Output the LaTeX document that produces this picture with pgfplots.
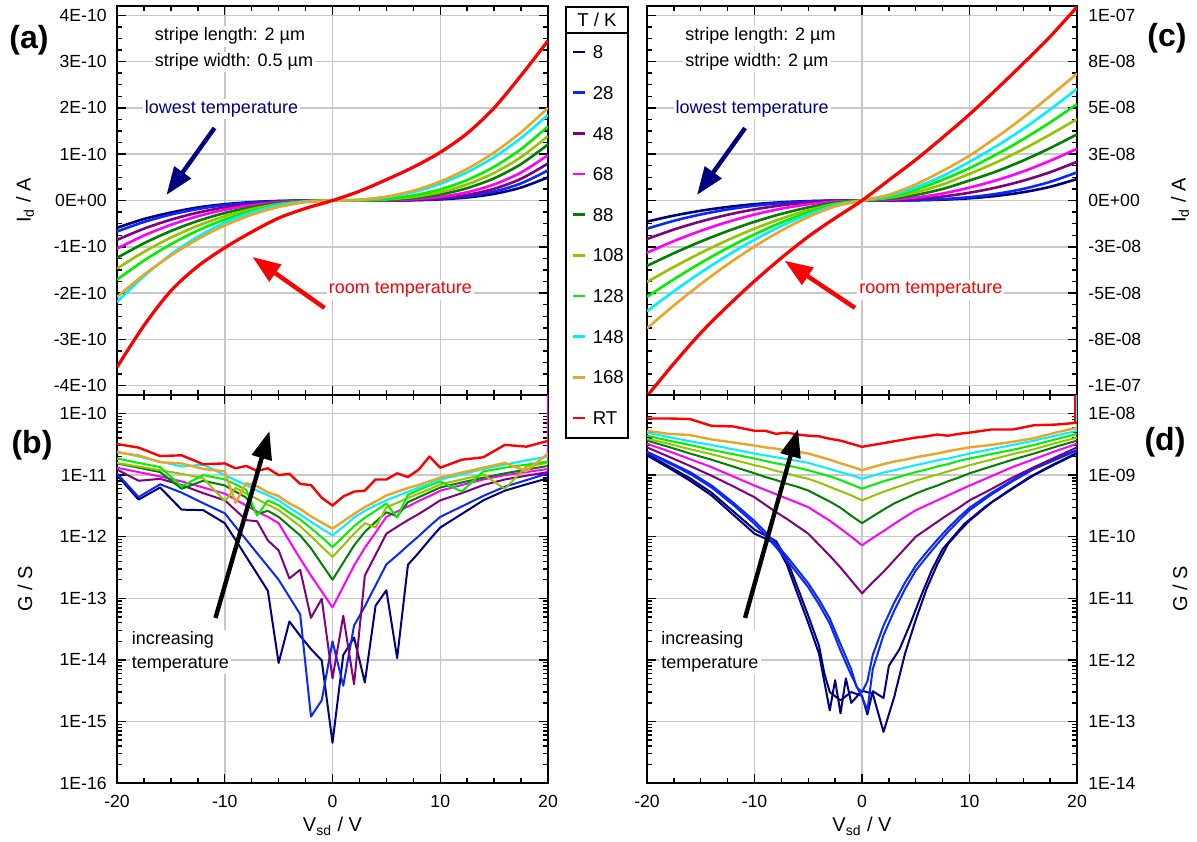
\documentclass[border=0pt]{standalone}
\usepackage{fontspec}
\setmainfont{Liberation Sans}
\usepackage{pgfplots}
\usepackage{pgfplotstable}
\pgfplotsset{compat=1.18}
\usetikzlibrary{arrows.meta}

\definecolor{c8}{RGB}{0,0,128}
\definecolor{c28}{RGB}{10,40,250}
\definecolor{c48}{RGB}{128,0,128}
\definecolor{c68}{RGB}{255,0,255}
\definecolor{c88}{RGB}{0,128,0}
\definecolor{c108}{RGB}{150,195,0}
\definecolor{c128}{RGB}{0,240,0}
\definecolor{c148}{RGB}{0,240,255}
\definecolor{c168}{RGB}{232,165,40}
\definecolor{cRT}{RGB}{255,0,0}
\definecolor{gridgray}{RGB}{200,200,200}

\newcommand\tickfont{\fontsize{8.8}{10}\selectfont}
\newcommand\annfont{\fontsize{9}{12}\selectfont}
\newcommand\legfont{\fontsize{9.3}{11}\selectfont}
\newcommand\panfont{\fontsize{16}{18}\selectfont\bfseries}

\pgfplotstableread{
V T8 T28 T48 T68 T88 T108 T128 T148 T168 RT
-20 -0.59e-10 -0.67e-10 -0.85e-10 -1.04e-10 -1.24e-10 -1.47e-10 -1.71e-10 -2.19e-10 -2.08e-10 -3.60e-10
-17.5 -0.40e-10 -0.464e-10 -0.609e-10 -0.757e-10 -0.924e-10 -1.109e-10 -1.298e-10 -1.635e-10 -1.604e-10 -2.70e-10
-15 -0.26e-10 -0.304e-10 -0.414e-10 -0.525e-10 -0.659e-10 -0.801e-10 -0.945e-10 -1.167e-10 -1.189e-10 -1.95e-10
-12.5 -0.15e-10 -0.184e-10 -0.262e-10 -0.340e-10 -0.441e-10 -0.545e-10 -0.649e-10 -0.782e-10 -0.834e-10 -1.42e-10
-10 -0.08e-10 -0.10e-10 -0.15e-10 -0.20e-10 -0.27e-10 -0.34e-10 -0.41e-10 -0.48e-10 -0.54e-10 -1.02e-10
-7.5 -0.035e-10 -0.045e-10 -0.073e-10 -0.101e-10 -0.143e-10 -0.185e-10 -0.227e-10 -0.256e-10 -0.309e-10 -0.68e-10
-5 -0.011e-10 -0.0149e-10 -0.0264e-10 -0.0385e-10 -0.0588e-10 -0.0787e-10 -0.0983e-10 -0.105e-10 -0.140e-10 -0.38e-10
-2.5 -0.0015e-10 -0.0022e-10 -0.0047e-10 -0.0074e-10 -0.0128e-10 -0.0182e-10 -0.0236e-10 -0.023e-10 -0.0364e-10 -0.17e-10
0 0 0 0 0 0 0 0 0 0 0
2.5 0.0001e-10 0.0001e-10 0.0002e-10 0.0005e-10 0.0015e-10 0.003e-10 0.0054e-10 0.0136e-10 0.017e-10 0.20e-10
5 0.0013e-10 0.0019e-10 0.0031e-10 0.0065e-10 0.014e-10 0.0233e-10 0.036e-10 0.070e-10 0.084e-10 0.45e-10
7.5 0.007e-10 0.0104e-10 0.0158e-10 0.0283e-10 0.0515e-10 0.077e-10 0.109e-10 0.182e-10 0.212e-10 0.72e-10
10 0.025e-10 0.035e-10 0.05e-10 0.08e-10 0.13e-10 0.18e-10 0.24e-10 0.36e-10 0.41e-10 1.04e-10
12.5 0.066e-10 0.0896e-10 0.122e-10 0.179e-10 0.267e-10 0.348e-10 0.442e-10 0.610e-10 0.683e-10 1.45e-10
15 0.144e-10 0.193e-10 0.253e-10 0.347e-10 0.479e-10 0.595e-10 0.728e-10 0.938e-10 1.036e-10 2.00e-10
17.5 0.28e-10 0.370e-10 0.469e-10 0.605e-10 0.787e-10 0.938e-10 1.110e-10 1.350e-10 1.473e-10 2.70e-10
20 0.50e-10 0.65e-10 0.80e-10 0.98e-10 1.21e-10 1.39e-10 1.60e-10 1.85e-10 2.00e-10 3.45e-10
}\tabA

\pgfplotstableread{
V T8 T28 T48 T68 T88 T108 T128 T148 T168 RT
-20 -1.14e-8 -1.52e-8 -2.08e-8 -2.82e-8 -3.53e-8 -4.4e-8 -5.2e-8 -5.98e-8 -6.9e-8 -10.56e-8
-17.5 -0.815e-8 -1.097e-8 -1.568e-8 -2.191e-8 -2.844e-8 -3.586e-8 -4.253e-8 -4.897e-8 -5.664e-8 -8.8e-8
-15 -0.553e-8 -0.753e-8 -1.132e-8 -1.637e-8 -2.216e-8 -2.831e-8 -3.371e-8 -3.888e-8 -4.511e-8 -7.15e-8
-12.5 -0.350e-8 -0.483e-8 -0.770e-8 -1.159e-8 -1.650e-8 -2.140e-8 -2.562e-8 -2.960e-8 -3.447e-8 -5.7e-8
-10 -0.20e-8 -0.28e-8 -0.48e-8 -0.76e-8 -1.15e-8 -1.52e-8 -1.83e-8 -2.12e-8 -2.48e-8 -4.35e-8
-7.5 -0.097e-8 -0.139e-8 -0.261e-8 -0.441e-8 -0.722e-8 -0.977e-8 -1.186e-8 -1.378e-8 -1.622e-8 -3.1e-8
-5 -0.035e-8 -0.0516e-8 -0.111e-8 -0.205e-8 -0.375e-8 -0.525e-8 -0.643e-8 -0.752e-8 -0.891e-8 -1.95e-8
-2.5 -0.0062e-8 -0.0095e-8 -0.0256e-8 -0.0552e-8 -0.122e-8 -0.181e-8 -0.2266e-8 -0.2665e-8 -0.3207e-8 -0.95e-8
0 0 0 0 0 0 0 0 0 0 0
2.5 0.0013e-8 0.0025e-8 0.0171e-8 0.0396e-8 0.087e-8 0.139e-8 0.198e-8 0.244e-8 0.311e-8 1.1e-8
5 0.0126e-8 0.0213e-8 0.085e-8 0.164e-8 0.301e-8 0.44e-8 0.589e-8 0.711e-8 0.872e-8 2.2e-8
7.5 0.047e-8 0.0743e-8 0.216e-8 0.377e-8 0.622e-8 0.866e-8 1.114e-8 1.328e-8 1.596e-8 3.4e-8
10 0.12e-8 0.18e-8 0.42e-8 0.70e-8 1.08e-8 1.44e-8 1.75e-8 2.09e-8 2.42e-8 4.65e-8
12.5 0.248e-8 0.358e-8 0.703e-8 1.09e-8 1.57e-8 2.06e-8 2.485e-8 2.93e-8 3.41e-8 6.0e-8
15 0.448e-8 0.627e-8 1.071e-8 1.57e-8 2.16e-8 2.77e-8 3.309e-8 3.87e-8 4.48e-8 7.4e-8
17.5 0.739e-8 1.008e-8 1.528e-8 2.144e-8 2.83e-8 3.56e-8 4.215e-8 4.909e-8 5.64e-8 8.85e-8
20 1.16e-8 1.52e-8 2.09e-8 2.79e-8 3.57e-8 4.39e-8 5.2e-8 6.03e-8 6.85e-8 10.45e-8
}\tabC

\pgfplotstableread{
V T8 T28 T48 T68 T88 T108 T128 T148 T168 RT
-20 1.0e-11 1.07e-11 1.23e-11 1.32e-11 1.55e-11 1.58e-11 1.86e-11 2.4e-11 2.34e-11 3.2e-11
-18 4.0e-12 4.4e-12 8.1e-12 1.12e-11 1.32e-11 1.38e-11 1.58e-11 2.0e-11 2.09e-11 2.8e-11
-16 6.3e-12 7.1e-12 8.7e-12 9.5e-12 1.12e-11 1.2e-11 1.35e-11 1.66e-11 1.62e-11 2.04e-11
-14 2.75e-12 5.2e-12 6.9e-12 7.9e-12 6.0e-12 1.05e-11 6.6e-12 1.38e-11 1.55e-11 2.1e-11
-12 2.7e-12 3.5e-12 5.1e-12 6.3e-12 8.1e-12 8.9e-12 1.0e-11 1.48e-11 1.26e-11 1.5e-11
-10 1.66e-12 2.4e-12 3.9e-12 5.0e-12 6.8e-12 3.8e-12 8.5e-12 1.0e-11 1.15e-11 1.55e-11
-9 8.9e-13 1.45e-12 2.7e-12 4.0e-12 5.4e-12 6.2e-12 7.1e-12 8.3e-12 3.55e-12 1.29e-11
-8 4.7e-13 8.9e-13 1.86e-12 3.2e-12 4.3e-12 5.0e-12 5.75e-12 6.9e-12 7.4e-12 1.41e-11
-7 2.5e-13 5.4e-13 1.78e-12 2.57e-12 2.34e-12 4.1e-12 2.2e-12 5.6e-12 6.6e-12 1.17e-11
-6 1.32e-13 3.3e-13 8.7e-13 2.1e-12 2.63e-12 3.3e-12 3.9e-12 4.7e-12 5.25e-12 1.29e-11
-5 8.9e-15 2.0e-13 6.0e-13 1.66e-12 2.1e-12 2.7e-12 3.24e-12 3.9e-12 4.57e-12 1.0e-11
-4 4.2e-14 1.05e-13 2.1e-13 8.5e-13 1.48e-12 2.0e-12 2.45e-12 2.95e-12 3.47e-12 1.05e-11
-3 2.45e-14 5.5e-14 2.9e-13 4.4e-13 1.05e-12 1.48e-12 1.9e-12 2.3e-12 2.82e-12 7.2e-12
-2 1.5e-14 1.2e-15 4.8e-14 2.34e-13 6.5e-13 1.02e-12 1.38e-12 1.74e-12 2.14e-12 6.9e-12
-1 9.8e-15 2.2e-15 9.8e-14 1.29e-13 3.6e-13 6.9e-13 9.8e-13 1.35e-12 1.70e-12 4.3e-12
0 4.5e-16 2.0e-14 5.0e-15 7.1e-14 2.0e-13 4.7e-13 6.8e-13 1.05e-12 1.35e-12 3.2e-12
1 1.2e-14 3.8e-15 5.2e-14 1.55e-13 3.8e-13 7.2e-13 1.0e-12 1.45e-12 1.78e-12 4.5e-12
2 2.3e-14 3.6e-14 4.0e-15 3.4e-13 7.2e-13 1.12e-12 1.48e-12 2.04e-12 2.34e-12 5.4e-12
3 4.3e-15 7.4e-14 2.34e-13 6.6e-13 1.2e-12 1.66e-12 2.04e-12 2.63e-12 3.02e-12 5.6e-12
4 7.6e-14 1.62e-13 5.1e-13 1.17e-12 1.74e-12 1.41e-12 2.63e-12 3.24e-12 3.72e-12 8.5e-12
5 1.35e-13 3.55e-13 1.12e-12 2.1e-12 2.5e-12 3.0e-12 3.47e-12 3.9e-12 4.68e-12 8.5e-12
6 1.07e-14 5.0e-13 1.45e-12 2.57e-12 2.14e-12 3.55e-12 2.04e-12 4.57e-12 5.37e-12 1.07e-11
7 3.5e-13 7.2e-13 1.86e-12 3.1e-12 3.63e-12 4.27e-12 4.8e-12 5.37e-12 6.17e-12 9.3e-12
8 5.5e-13 1.02e-12 2.34e-12 3.8e-12 4.37e-12 5.0e-12 5.75e-12 6.3e-12 6.92e-12 1.23e-11
9 8.9e-13 1.48e-12 3.0e-12 4.57e-12 5.25e-12 5.9e-12 6.8e-12 7.2e-12 7.94e-12 2.0e-11
10 1.41e-12 2.1e-12 3.9e-12 5.6e-12 6.3e-12 7.1e-12 7.9e-12 8.5e-12 9.12e-12 1.32e-11
12 2.34e-12 3.1e-12 5.1e-12 6.9e-12 7.6e-12 8.5e-12 5.4e-12 1.02e-11 1.10e-11 1.78e-11
14 3.9e-12 4.6e-12 6.9e-12 8.5e-12 9.1e-12 1.02e-11 1.15e-11 1.26e-11 1.32e-11 1.95e-11
16 5.6e-12 6.5e-12 8.5e-12 1.0e-11 1.07e-11 6.0e-12 1.32e-11 1.48e-11 1.58e-11 3.1e-11
18 7.1e-12 8.3e-12 9.8e-12 1.12e-11 1.23e-11 1.38e-11 1.48e-11 1.74e-11 1.17e-11 2.9e-11
20 8.9e-12 1.07e-11 1.12e-11 1.26e-11 1.41e-11 1.58e-11 1.66e-11 2.0e-11 2.24e-11 3.6e-11
}\tabB

\pgfplotstableread{
V T48 T68 T88 T108 T128 T148 T168 RT
-20 2.82e-9 3.24e-9 3.63e-9 3.89e-9 4.37e-9 4.90e-9 5.25e-9 8.32e-9
-18 2.00e-9 2.45e-9 2.88e-9 3.24e-9 3.63e-9 4.17e-9 4.68e-9 8.32e-9
-16 1.41e-9 1.82e-9 2.24e-9 2.63e-9 3.09e-9 3.55e-9 4.47e-9 8.13e-9
-14 9.77e-10 1.35e-9 1.78e-9 2.19e-9 2.57e-9 3.09e-9 3.80e-9 6.31e-9
-12 6.61e-10 9.55e-10 1.38e-9 1.78e-9 2.19e-9 2.63e-9 3.39e-9 6.17e-9
-10 4.37e-10 6.76e-10 1.07e-9 1.45e-9 1.86e-9 2.24e-9 3.02e-9 5.25e-9
-9 3.31e-10 5.75e-10 9.33e-10 1.32e-9 1.70e-9 2.09e-9 2.82e-9 5.25e-9
-8 2.51e-10 4.90e-10 8.32e-10 1.17e-9 1.55e-9 1.95e-9 2.69e-9 4.68e-9
-7 1.95e-10 4.17e-10 7.24e-10 1.07e-9 1.45e-9 1.82e-9 2.51e-9 4.90e-9
-6 1.48e-10 3.55e-10 6.46e-10 9.55e-10 1.32e-9 1.70e-9 2.40e-9 4.57e-9
-5 1.12e-10 3.02e-10 5.62e-10 8.71e-10 1.20e-9 1.58e-9 2.24e-9 4.37e-9
-4 7.41e-11 2.34e-10 4.57e-10 7.59e-10 1.07e-9 1.41e-9 2.00e-9 4.27e-9
-3 4.90e-11 1.82e-10 3.72e-10 6.46e-10 9.55e-10 1.26e-9 1.78e-9 3.89e-9
-2 3.16e-11 1.35e-10 2.95e-10 5.50e-10 8.32e-10 1.12e-9 1.55e-9 3.63e-9
-1 1.95e-11 1.00e-10 2.19e-10 4.68e-10 7.08e-10 1.00e-9 1.38e-9 3.24e-9
0 1.20e-11 7.24e-11 1.66e-10 3.89e-10 6.03e-10 8.71e-10 1.20e-9 2.88e-9
1 1.82e-11 9.55e-11 2.14e-10 4.57e-10 6.92e-10 9.77e-10 1.35e-9 3.09e-9
2 2.69e-11 1.23e-10 2.75e-10 5.37e-10 7.94e-10 1.10e-9 1.51e-9 3.31e-9
3 4.17e-11 1.62e-10 3.47e-10 6.17e-10 8.91e-10 1.20e-9 1.66e-9 3.55e-9
4 6.46e-11 2.09e-10 4.17e-10 7.08e-10 1.00e-9 1.32e-9 1.78e-9 3.80e-9
5 1.00e-10 2.69e-10 5.01e-10 8.13e-10 1.12e-9 1.45e-9 1.95e-9 4.07e-9
6 1.32e-10 3.24e-10 5.89e-10 9.12e-10 1.23e-9 1.58e-9 2.09e-9 4.27e-9
7 1.74e-10 3.89e-10 6.76e-10 1.02e-9 1.38e-9 1.74e-9 2.24e-9 4.57e-9
8 2.29e-10 4.68e-10 7.94e-10 1.15e-9 1.51e-9 1.86e-9 2.45e-9 4.37e-9
9 2.95e-10 5.62e-10 9.12e-10 1.29e-9 1.70e-9 2.04e-9 2.63e-9 4.68e-9
10 3.89e-10 6.76e-10 1.07e-9 1.45e-9 1.86e-9 2.24e-9 2.82e-9 4.90e-9
12 5.89e-10 9.55e-10 1.38e-9 1.78e-9 2.19e-9 2.63e-9 3.09e-9 5.50e-9
14 9.12e-10 1.35e-9 1.78e-9 2.19e-9 2.57e-9 3.09e-9 3.47e-9 5.50e-9
16 1.35e-9 1.82e-9 2.24e-9 2.63e-9 3.09e-9 3.63e-9 3.98e-9 6.46e-9
18 1.95e-9 2.45e-9 2.88e-9 3.31e-9 3.80e-9 4.37e-9 4.90e-9 6.61e-9
20 2.82e-9 3.24e-9 3.63e-9 4.07e-9 4.68e-9 5.25e-9 5.89e-9 7.08e-9
}\tabD

\pgfplotsset{
  panel/.style={
    scale only axis, width=215.5pt,
    xmin=-20, xmax=20,
    xtick={-20,-10,0,10,20},
    minor xtick={-17.5,-15,-12.5,-7.5,-5,-2.5,2.5,5,7.5,12.5,15,17.5},
    grid=major,
    major grid style={draw=gridgray, line width=0.75pt},
    axis line style={line width=0.9pt},
    every tick/.append style={black, line width=0.7pt},
    major tick length=4.5pt, minor tick length=2.5pt,
    tick align=inside,
    scaled y ticks=false, scaled x ticks=false,
    tick label style={font=\tickfont},
    label style={font=\tickfont},
  },
  leftlab/.style={
    yticklabel style={anchor=east, inner sep=0pt, xshift=-5pt},
    every axis y label/.style={at={(axis description cs:-0.2135,0.5)}, rotate=90, anchor=center},
  },
  rightlab/.style={
    yticklabel pos=right,
    yticklabel style={anchor=west, inner sep=0pt, xshift=5.5pt},
    every axis y label/.style={at={(axis description cs:1.2395,0.5)}, rotate=90, anchor=center},
  },
  upper/.style={height=194.5pt, xticklabels={,,,,}, minor y tick num=3},
  lower/.style={height=194pt,
    xticklabels={-20,-10,0,10,20},
    xticklabel style={inner sep=0pt, yshift=-6pt},
    xlabel={V\textsubscript{sd} / V},
    every axis x label/.style={at={(axis description cs:0.5,0)}, anchor=north, yshift=-17pt, inner sep=0pt},
  },
  ivline/.style={line width=1.3pt, smooth},
  gline/.style={line width=1pt, line join=round},
}

\begin{document}
\begin{tikzpicture}
\useasboundingbox (0,0) rectangle (598.5pt,420.5pt);

% ---------------- (a)
\begin{axis}[panel, upper, leftlab, at={(58.5pt,223pt)},
  ymin=-4.2e-10, ymax=4.2e-10,
  ytick={-4e-10,-3e-10,-2e-10,-1e-10,0,1e-10,2e-10,3e-10,4e-10},
  yticklabels={-4E-10,-3E-10,-2E-10,-1E-10,0E+00,1E-10,2E-10,3E-10,4E-10},
  ylabel={I\textsubscript{d} / A},
  legend style={at={(axis description cs:1.0557,0.934)}, anchor=north west, draw=none, fill=none,
    inner sep=0pt, outer sep=0pt, row sep=0pt, column sep=3pt,
    nodes={inner sep=0pt, text height=13.5pt, text depth=6.83pt, font=\legfont}},
  legend cell align=left,
  legend image code/.code={\draw[#1, line width=1.4pt] (0pt,0pt) -- (6pt,0pt);},
]
\addplot[c8, ivline] table[x=V,y=T8]{\tabA}; \addlegendentry{8}
\addplot[c28, ivline] table[x=V,y=T28]{\tabA}; \addlegendentry{28}
\addplot[c48, ivline] table[x=V,y=T48]{\tabA}; \addlegendentry{48}
\addplot[c68, ivline] table[x=V,y=T68]{\tabA}; \addlegendentry{68}
\addplot[c88, ivline] table[x=V,y=T88]{\tabA}; \addlegendentry{88}
\addplot[c108, ivline] table[x=V,y=T108]{\tabA}; \addlegendentry{108}
\addplot[c128, ivline] table[x=V,y=T128]{\tabA}; \addlegendentry{128}
\addplot[c148, ivline] table[x=V,y=T148]{\tabA}; \addlegendentry{148}
\addplot[c168, ivline] table[x=V,y=T168]{\tabA}; \addlegendentry{168}
\addplot[cRT, ivline, line width=1.6pt] table[x=V,y=RT]{\tabA}; \addlegendentry{RT}
\node[anchor=west, fill=white, inner sep=1pt, font=\annfont] at (axis cs:-16.7,3.55e-10) {stripe length: 2 µm};
\node[anchor=west, fill=white, inner sep=1pt, font=\annfont] at (axis cs:-16.7,2.99e-10) {stripe width: 0.5 µm};
\node[fill=white, inner sep=1pt, text=c8, font=\annfont] at (axis cs:-10.3,1.976e-10) {lowest temperature};
\draw[c8, line width=2.2pt, -{Triangle[length=14pt,width=10pt]}] (axis cs:-10.95,1.566e-10) -- (axis cs:-15.41,0.119e-10);
\node[anchor=west, fill=white, inner sep=1pt, text=cRT, font=\annfont] at (axis cs:-0.56,-1.933e-10) {room temperature};
\draw[cRT, line width=2.2pt, -{Triangle[length=14pt,width=10pt]}] (axis cs:-0.74,-2.32e-10) -- (axis cs:-7.42,-1.22e-10);
\end{axis}

% ---------------- (b)
\begin{axis}[panel, lower, leftlab, ymode=log, at={(58.5pt,29pt)},
  ymin=1e-16, ymax=2e-10,
  ytick={1e-16,1e-15,1e-14,1e-13,1e-12,1e-11,1e-10},
  yticklabels={1E-16,1E-15,1E-14,1E-13,1E-12,1E-11,1E-10},
  minor ytick={2e-16,3e-16,4e-16,5e-16,6e-16,7e-16,8e-16,9e-16,
    2e-15,3e-15,4e-15,5e-15,6e-15,7e-15,8e-15,9e-15,
    2e-14,3e-14,4e-14,5e-14,6e-14,7e-14,8e-14,9e-14,
    2e-13,3e-13,4e-13,5e-13,6e-13,7e-13,8e-13,9e-13,
    2e-12,3e-12,4e-12,5e-12,6e-12,7e-12,8e-12,9e-12,
    2e-11,3e-11,4e-11,5e-11,6e-11,7e-11,8e-11,9e-11},
  ylabel={G / S},
]
\addplot[c8, gline] table[x=V,y=T8]{\tabB};
\addplot[c28, gline] table[x=V,y=T28]{\tabB};
\addplot[c48, gline] table[x=V,y=T48]{\tabB};
\addplot[c68, gline] table[x=V,y=T68]{\tabB};
\addplot[c68, gline] coordinates {(20,1.26e-11) (20,3e-10)};
\addplot[c88, gline] table[x=V,y=T88]{\tabB};
\addplot[c108, gline] table[x=V,y=T108]{\tabB};
\addplot[c128, gline] table[x=V,y=T128]{\tabB};
\addplot[c148, gline] table[x=V,y=T148]{\tabB};
\addplot[c168, gline, line width=1.2pt] table[x=V,y=T168]{\tabB};
\addplot[cRT, gline, line width=1.2pt] table[x=V,y=RT]{\tabB};
\draw[black, line width=2.2pt, -{Triangle[length=14pt,width=10pt]}] (axis cs:-10.86,4.8e-14) -- (axis cs:-5.85,5.2e-11);
\node[anchor=west, align=left, fill=white, inner sep=1pt, font=\annfont] at (axis cs:-18.84,1.34e-14) {increasing\\temperature};
\end{axis}

% ---------------- (c)
\begin{axis}[panel, upper, rightlab, at={(323.5pt,223pt)}, width=215pt,
  ymin=-1.05e-7, ymax=1.05e-7,
  ytick={-1e-7,-7.5e-8,-5e-8,-2.5e-8,0,2.5e-8,5e-8,7.5e-8,1e-7},
  yticklabels={-1E-07,-8E-08,-5E-08,-3E-08,0E+00,3E-08,5E-08,8E-08,1E-07},
  ylabel={I\textsubscript{d} / A},
]
\addplot[c8, ivline] table[x=V,y=T8]{\tabC};
\addplot[c28, ivline] table[x=V,y=T28]{\tabC};
\addplot[c48, ivline] table[x=V,y=T48]{\tabC};
\addplot[c68, ivline] table[x=V,y=T68]{\tabC};
\addplot[c88, ivline] table[x=V,y=T88]{\tabC};
\addplot[c108, ivline] table[x=V,y=T108]{\tabC};
\addplot[c128, ivline] table[x=V,y=T128]{\tabC};
\addplot[c148, ivline] table[x=V,y=T148]{\tabC};
\addplot[c168, ivline] table[x=V,y=T168]{\tabC};
\addplot[cRT, ivline, line width=1.6pt] table[x=V,y=RT]{\tabC};
\node[anchor=west, fill=white, inner sep=1pt, font=\annfont] at (axis cs:-16.65,8.88e-8) {stripe length: 2 µm};
\node[anchor=west, fill=white, inner sep=1pt, font=\annfont] at (axis cs:-16.65,7.48e-8) {stripe width: 2 µm};
\node[fill=white, inner sep=1pt, text=c8, font=\annfont] at (axis cs:-10.23,4.94e-8) {lowest temperature};
\draw[c8, line width=2.2pt, -{Triangle[length=14pt,width=10pt]}] (axis cs:-10.88,3.91e-8) -- (axis cs:-15.35,0.297e-8);
\node[anchor=west, fill=white, inner sep=1pt, text=cRT, font=\annfont] at (axis cs:-0.47,-4.83e-8) {room temperature};
\draw[cRT, line width=2.2pt, -{Triangle[length=14pt,width=10pt]}] (axis cs:-0.65,-5.80e-8) -- (axis cs:-7.2,-3.25e-8);
\end{axis}

% ---------------- (d)
\begin{axis}[panel, lower, rightlab, ymode=log, at={(323.5pt,29pt)}, width=215pt,
  ymin=1e-14, ymax=2e-8,
  ytick={1e-14,1e-13,1e-12,1e-11,1e-10,1e-9,1e-8},
  yticklabels={1E-14,1E-13,1E-12,1E-11,1E-10,1E-09,1E-08},
  minor ytick={2e-14,3e-14,4e-14,5e-14,6e-14,7e-14,8e-14,9e-14,
    2e-13,3e-13,4e-13,5e-13,6e-13,7e-13,8e-13,9e-13,
    2e-12,3e-12,4e-12,5e-12,6e-12,7e-12,8e-12,9e-12,
    2e-11,3e-11,4e-11,5e-11,6e-11,7e-11,8e-11,9e-11,
    2e-10,3e-10,4e-10,5e-10,6e-10,7e-10,8e-10,9e-10,
    2e-9,3e-9,4e-9,5e-9,6e-9,7e-9,8e-9,9e-9},
  ylabel={G / S},
]
\addplot[c8, gline] coordinates {(-20,2.09e-9) (-18,1.32e-9) (-16,8.13e-10) (-14,4.68e-10) (-12,2.29e-10) (-10,1.12e-10) (-9,9.33e-11) (-8,7.59e-11) (-7,3.55e-11) (-6,1.17e-11) (-5,3.98e-12) (-4,1.26e-12) (-3,1.51e-13) (-2.5,4.68e-13) (-2,1.35e-13) (-1.5,5.01e-13) (-1,2.00e-13) (0,3.16e-13) (1,2.82e-13) (2,6.76e-14) (3,2.51e-13) (4,1.26e-12) (5,4.47e-12) (6,1.41e-11) (7,3.55e-11) (8,7.59e-11) (9,1.20e-10) (10,1.82e-10) (12,3.55e-10) (14,6.03e-10) (16,1.00e-9) (18,1.51e-9) (20,2.24e-9)};
\addplot[c8, gline] coordinates {(-20,2.2e-9) (-18,1.4e-9) (-16,8.9e-10) (-14,5.2e-10) (-12,2.6e-10) (-10,1.3e-10) (-9,1.05e-10) (-8,8.5e-11) (-7,4.3e-11) (-6,1.5e-11) (-5,5.2e-12) (-4,1.7e-12) (-3.5,6.0e-13) (-3,3.0e-13) (-2,2.2e-13) (-1,3.0e-13) (0,2.6e-13) (0.5,1.3e-13) (1,3.1e-13) (2,2.4e-13) (2.5,8.0e-13) (3.5,1.5e-12) (4.5,3.9e-12) (5.5,1.1e-11) (6.5,2.9e-11) (7.5,6.3e-11) (8.5,1.0e-10) (9.5,1.6e-10) (11.5,3.1e-10) (13.5,5.4e-10) (15.5,9.1e-10) (17.5,1.4e-9) (20,2.3e-9)};
\addplot[c28, gline] coordinates {(-20,2.34e-9) (-18,1.58e-9) (-16,1.05e-9) (-14,6.31e-10) (-12,3.31e-10) (-10,1.62e-10) (-9,1.07e-10) (-8,6.76e-11) (-7,4.17e-11) (-6,2.51e-11) (-5,1.51e-11) (-4,7.94e-12) (-3,3.89e-12) (-2,1.41e-12) (-1,5.62e-13) (0,2.51e-13) (0.5,1.51e-13) (1,7.08e-13) (2,2.51e-12) (3,6.31e-12) (4,1.41e-11) (5,2.82e-11) (6,4.68e-11) (7,7.59e-11) (8,1.20e-10) (9,1.82e-10) (10,2.69e-10) (12,4.79e-10) (14,7.94e-10) (16,1.26e-9) (18,1.78e-9) (20,2.51e-9)};
\addplot[c28, gline] coordinates {(-20,2.4e-9) (-18,1.65e-9) (-16,1.12e-9) (-14,6.8e-10) (-12,3.6e-10) (-10,1.8e-10) (-9,1.2e-10) (-8,7.6e-11) (-7,4.8e-11) (-6,2.9e-11) (-5,1.75e-11) (-4,9.5e-12) (-3,4.7e-12) (-2,1.8e-12) (-1,7.0e-13) (-0.5,3.6e-13) (0,3.0e-13) (0.5,4.5e-13) (1,1.2e-12) (2,3.6e-12) (3,8.5e-12) (4,1.8e-11) (5,3.4e-11) (6,5.6e-11) (7,8.9e-11) (8,1.38e-10) (9,2.05e-10) (10,2.95e-10) (12,5.1e-10) (14,8.3e-10) (16,1.3e-9) (18,1.85e-9) (20,2.55e-9)};
\addplot[c48, gline] table[x=V,y=T48]{\tabD};
\addplot[c68, gline] table[x=V,y=T68]{\tabD};
\addplot[c88, gline] table[x=V,y=T88]{\tabD};
\addplot[c108, gline] table[x=V,y=T108]{\tabD};
\addplot[c128, gline] table[x=V,y=T128]{\tabD};
\addplot[c148, gline] table[x=V,y=T148]{\tabD};
\addplot[c148, gline] coordinates {(20,5.25e-9) (20,3e-8)};
\addplot[c168, gline, line width=1.2pt] table[x=V,y=T168]{\tabD};
\addplot[cRT, gline, line width=1.2pt] table[x=V,y=RT]{\tabD};
\addplot[cRT, gline] coordinates {(19.8,7.08e-9) (19.8,3e-8)};
\draw[black, line width=2.2pt, -{Triangle[length=14pt,width=10pt]}] (axis cs:-10.88,4.8e-12) -- (axis cs:-5.95,5.6e-9);
\node[anchor=west, align=left, fill=white, inner sep=1pt, font=\annfont] at (axis cs:-18.88,1.34e-12) {increasing\\temperature};
\end{axis}

% legend frame and header
\draw[line width=0.9pt] (283pt,201.5pt) rectangle (314pt,417pt);
\draw[line width=0.9pt] (283pt,404pt) -- (314pt,404pt);
\node[font=\legfont, inner sep=0pt] at (298.5pt,410.5pt) {T / K};

% panel letters
\node[font=\panfont] at (14.5pt,400.5pt) {(a)};
\node[font=\panfont] at (16pt,198pt) {(b)};
\node[font=\panfont] at (583.5pt,401.25pt) {(c)};
\node[font=\panfont] at (582.5pt,199.5pt) {(d)};
\end{tikzpicture}
\end{document}
